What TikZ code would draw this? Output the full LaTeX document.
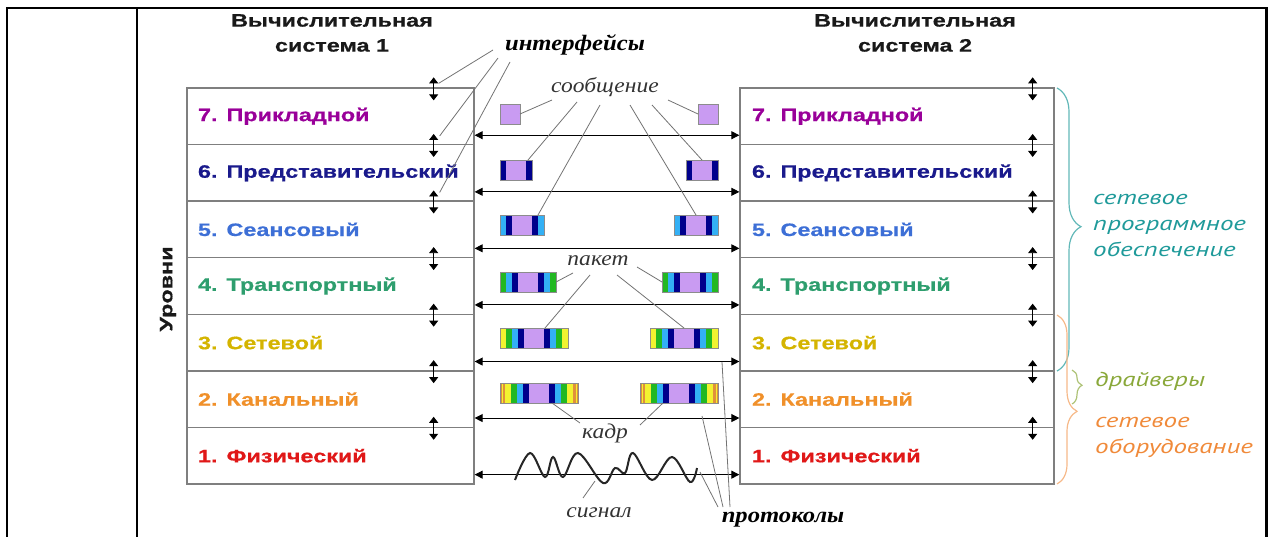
\documentclass[tikz,border=0pt]{standalone}
\usepackage{fontspec}
\setmainfont{Liberation Sans}
\newfontfamily\lsans[FakeStretch=1.3,BoldFeatures={FakeBold=0.6}]{Liberation Sans}
\newfontfamily\lserif[FakeStretch=1.12]{Liberation Serif}
\newfontfamily\ptit[FakeStretch=1.35]{PT Sans}
\usetikzlibrary{arrows.meta,decorations.pathreplacing,calc}
\definecolor{c7}{HTML}{990099}
\definecolor{c6}{HTML}{1A1A8C}
\definecolor{c5}{HTML}{3D6FD6}
\definecolor{c4}{HTML}{2E9E6E}
\definecolor{c3}{HTML}{D4B400}
\definecolor{c2}{HTML}{F0902A}
\definecolor{c1}{HTML}{E01818}
\definecolor{lav}{HTML}{C99BF2}
\definecolor{nav}{HTML}{00008C}
\definecolor{cya}{HTML}{33B0F5}
\definecolor{grn}{HTML}{22B822}
\definecolor{yel}{HTML}{F2F230}
\definecolor{orng}{HTML}{E0903A}
\definecolor{teal1}{HTML}{1F9A9A}
\definecolor{oliv}{HTML}{8AA83A}
\definecolor{orng2}{HTML}{F08A3A}
\definecolor{boxgray}{HTML}{7F7F7F}
\newcommand\hw[1]{\ifcase#1 10\or 16\or 22\or 28\or 34\or 39\fi}
\newcommand\pkt[4]{%
  \node[inner sep=0pt, outer sep=0pt, minimum height=20pt, minimum width={2*\hw{#4}}] (#1) at (#2,#3) {};
  \foreach \d/\cc/\h in {5/orng/39,4/yel/34,3/grn/28,2/cya/22,1/nav/16}{%
    \ifnum\d>#4\relax\else
      \fill[\cc] (#2-\h,#3-10) rectangle (#2+\h,#3+10);
    \fi}
  \ifnum#4=5\relax
    \draw[yel, line width=0.7pt] (#2-37,#3-10) -- (#2-37,#3+10) (#2+37,#3-10) -- (#2+37,#3+10);
  \fi
  \fill[lav] (#2-10,#3-10) rectangle (#2+10,#3+10);
  \draw[draw=black!45, line width=0.5pt] (#1.south west) rectangle (#1.north east);
}
\begin{document}
\begin{tikzpicture}[x=1pt,y=-1pt,
  lbox/.style={draw=boxgray, line width=1.3pt, minimum height=56.57pt, inner xsep=11pt, inner ysep=0pt,
     text width=265pt, align=left, font=\lsans\bfseries\fontsize{18}{20}\selectfont},
  rbox/.style={lbox, text width=290pt, inner xsep=12pt},
  title/.style={align=center, font=\lsans\bfseries\fontsize{18}{25}\selectfont, text=black!90},
  lab/.style={font=\lserif\itshape\fontsize{21}{24}\selectfont, text=black!80, inner sep=1pt},
  blab/.style={font=\lserif\bfseries\itshape\fontsize{22}{24}\selectfont, text=black, inner sep=1pt},
  rlab/.style={font=\ptit\itshape\fontsize{20}{26}\selectfont, align=left, anchor=west, inner sep=0pt},
  vud/.style={{Triangle[length=6pt,width=9pt]}-{Triangle[length=6pt,width=9pt]}, line width=0.8pt},
  harr/.style={{Triangle[length=8pt,width=8pt]}-{Triangle[length=8pt,width=8pt]}, line width=0.9pt},
  lead/.style={draw=black!55, line width=0.8pt},
  brc/.style={decorate, line width=1.2pt}]
\useasboundingbox (0,0) rectangle (1268,537);
% frame
\draw[line width=2.8pt] (7,537) -- (7,8) -- (1266.5,8) -- (1266.5,537);
\draw[line width=2.5pt] (137,8) -- (137,537);
% titles
\node[title] (t1) at (332,33) {Вычислительная\\система 1};
\node[title] (t2) at (915,33) {Вычислительная\\система 2};
\node[rotate=90, font=\lsans\bfseries\fontsize{18}{20}\selectfont, text=black!90] (lev) at (168,289) {Уровни};
% left stack
\node[lbox,text=c7] (L7) at (330.5,116.3) {7. Прикладной};
\node[lbox,text=c6] (L6) at (330.5,172.9) {6. Представительский};
\node[lbox,text=c5] (L5) at (330.5,229.4) {5. Сеансовый};
\node[lbox,text=c4] (L4) at (330.5,286.0) {4. Транспортный};
\node[lbox,text=c3] (L3) at (330.5,342.6) {3. Сетевой};
\node[lbox,text=c2] (L2) at (330.5,399.1) {2. Канальный};
\node[lbox,text=c1] (L1) at (330.5,455.7) {1. Физический};
% right stack
\node[rbox,text=c7] (R7) at (897,116.3) {7. Прикладной};
\node[rbox,text=c6] (R6) at (897,172.9) {6. Представительский};
\node[rbox,text=c5] (R5) at (897,229.4) {5. Сеансовый};
\node[rbox,text=c4] (R4) at (897,286.0) {4. Транспортный};
\node[rbox,text=c3] (R3) at (897,342.6) {3. Сетевой};
\node[rbox,text=c2] (R2) at (897,399.1) {2. Канальный};
\node[rbox,text=c1] (R1) at (897,455.7) {1. Физический};
% interface arrows and protocol arrows
\foreach \n in {1,...,7}{
  \draw[vud] ([xshift=-41pt,yshift=10pt]L\n.north east) -- ([xshift=-41pt,yshift=-13pt]L\n.north east);
  \draw[vud] ([xshift=-22pt,yshift=10pt]R\n.north east) -- ([xshift=-22pt,yshift=-13pt]R\n.north east);
  \draw[harr] ([yshift=10pt]L\n.south east) -- ([yshift=10pt]R\n.south west);
}
% packets
\pkt{i7L}{510}{114}{0} \pkt{i7R}{708}{114}{0}
\pkt{i6L}{516}{170}{1} \pkt{i6R}{702}{170}{1}
\pkt{i5L}{522}{225}{2} \pkt{i5R}{696}{225}{2}
\pkt{i4L}{528}{282}{3} \pkt{i4R}{690}{282}{3}
\pkt{i3L}{534}{338}{4} \pkt{i3R}{684}{338}{4}
\pkt{i2L}{539}{393}{5} \pkt{i2R}{679}{393}{5}
% signal
\draw[line width=2pt, black!85] plot[smooth, tension=0.6] coordinates {(515,480) (530,453) (545,477) (553,457) (563,477) (578,453) (603,483) (615,468) (625,473) (633,453) (652,480) (672,457) (690,482) (697,468)};
\coordinate (w1) at (595,481);
% labels
\node[blab] (if) at (575,45) {интерфейсы};
\node[lab] (msg) at (605,87) {сообщение};
\node[lab] (pk) at (598,261) {пакет};
\node[lab] (kd) at (605,433) {кадр};
\node[lab] (sg) at (599,513) {сигнал};
\node[blab] (pr) at (783,520) {протоколы};
% leader lines
\draw[lead] ($(if)+(-82,5)$) -- ([xshift=-36pt,yshift=4pt]L7.north east);
\draw[lead] ($(if)+(-77,13)$) -- ([xshift=-35pt,yshift=8pt]L6.north east);
\draw[lead] ($(if)+(-65,17)$) -- ([xshift=-35pt,yshift=8pt]L5.north east);
\draw[lead] ($(msg)+(-53,13)$) -- (i7L.east);
\draw[lead] ($(msg)+(-28,15)$) -- ($(i6L.north east)+(-4,0)$);
\draw[lead] ($(msg)+(-5,18)$) -- ($(i5L.north east)+(-6,0)$);
\draw[lead] ($(msg)+(25,18)$) -- (i5R.north);
\draw[lead] ($(msg)+(47,18)$) -- (i6R.north);
\draw[lead] ($(msg)+(63,13)$) -- (i7R.west);
\draw[lead] ($(pk)+(-25,12)$) -- (i4L.east);
\draw[lead] ($(pk)+(-8,14)$) -- ($(i3L.north)+(11,0)$);
\draw[lead] ($(pk)+(39,6)$) -- (i4R.west);
\draw[lead] ($(pk)+(19,14)$) -- (i3R.north);
\draw[lead] ($(kd)+(-25,-10)$) -- ($(i2L.south)+(13,0)$);
\draw[lead] ($(kd)+(35,-8)$) -- ($(i2R.south)+(-16,0)$);
\draw[lead] ($(sg)+(-16,-15)$) -- (w1);
\coordinate (p1) at (700,472);
\coordinate (p2) at (702,416);
\coordinate (p3) at (722,362);
\draw[lead] ($(pr)+(-65,-13)$) -- (p1);
\draw[lead] ($(pr)+(-60,-13)$) -- (p2);
\draw[lead] ($(pr)+(-53,-13)$) -- (p3);
% braces
\draw[brc, teal1!70, decoration={brace, amplitude=24pt, aspect=0.49}] (1057,88) -- (1057,371);
\draw[brc, orng2!60, decoration={brace, amplitude=20pt, aspect=0.57}] (1057,315) -- (1057,484);
\draw[brc, oliv!70, decoration={brace, amplitude=10pt, aspect=0.45}] (1072,370) -- (1072,404);
\node[rlab, text=teal1] (sw) at (1093,226) {сетевое\\программное\\обеспечение};
\node[rlab, text=oliv] (dr) at (1095,381) {драйверы};
\node[rlab, text=orng2] (hwl) at (1095,437) {сетевое\\оборудование};
\end{tikzpicture}
\end{document}
